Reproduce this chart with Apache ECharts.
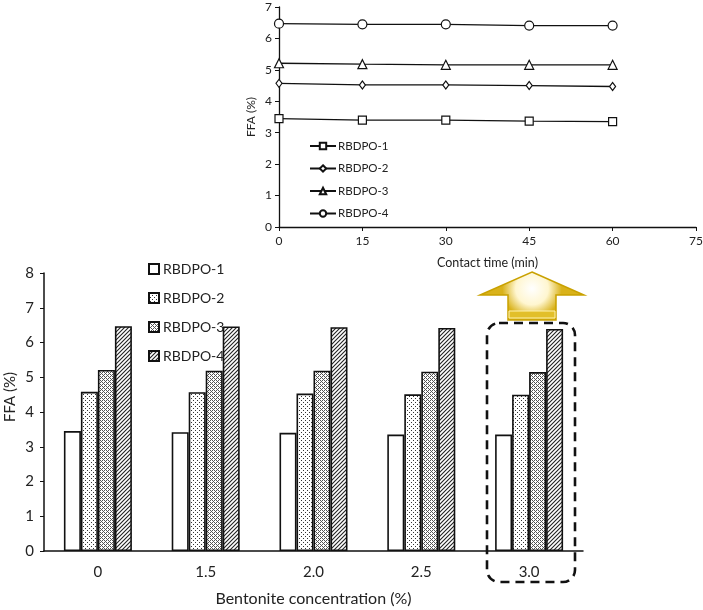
<!DOCTYPE html>
<html>
<head>
<meta charset="utf-8">
<script src="https://cdn.jsdelivr.net/npm/echarts@6/dist/echarts.min.js"></script>
<style>
html,body{margin:0;padding:0;background:#fff;}
#chart{width:703px;height:610px;}
</style>
</head>
<body>
<div id="chart"></div>
<script>
// ---- Data ----
const seriesNames = ['RBDPO-1', 'RBDPO-2', 'RBDPO-3', 'RBDPO-4'];
// Bottom chart: FFA vs bentonite concentration
const bentoniteCategories = ['0', '1.5', '2.0', '2.5', '3.0'];
const barRBDPO1 = [3.45, 3.42, 3.40, 3.35, 3.35];
const barRBDPO2 = [4.58, 4.57, 4.53, 4.51, 4.50];
const barRBDPO3 = [5.21, 5.19, 5.19, 5.16, 5.15];
const barRBDPO4 = [6.47, 6.46, 6.44, 6.42, 6.39];
// Top chart: FFA vs contact time (at 3.0 % bentonite)
const contactTimes = [0, 15, 30, 45, 60];
const lineRBDPO1 = [3.45, 3.40, 3.40, 3.37, 3.35];
const lineRBDPO2 = [4.57, 4.52, 4.52, 4.50, 4.47];
const lineRBDPO3 = [5.21, 5.18, 5.16, 5.16, 5.16];
const lineRBDPO4 = [6.47, 6.45, 6.45, 6.41, 6.41];
const barYTicks = [0, 1, 2, 3, 4, 5, 6, 7, 8];
const lineYTicks = [0, 1, 2, 3, 4, 5, 6, 7];
const lineXTicks = [0, 15, 30, 45, 60, 75];

// ---- Patterns ----
function makeTile(w, h, draw) {
  const c = document.createElement('canvas');
  c.width = w; c.height = h;
  const ctx = c.getContext('2d');
  ctx.fillStyle = '#fff';
  ctx.fillRect(0, 0, w, h);
  draw(ctx);
  return c;
}
const sparseDots = makeTile(4, 4, ctx => {
  ctx.fillStyle = '#333';
  ctx.fillRect(1, 0, 1, 1);
  ctx.fillRect(3, 2, 1, 1);
});
const denseDots = makeTile(4, 4, ctx => {
  ctx.fillStyle = '#555';
  ctx.fillRect(0, 0, 1, 1); ctx.fillRect(2, 0, 1, 1);
  ctx.fillRect(1, 1, 1, 1);
  ctx.fillRect(0, 2, 1, 1); ctx.fillRect(2, 2, 1, 1);
  ctx.fillRect(3, 3, 1, 1);
});
const hatch = makeTile(4, 4, ctx => {
  ctx.strokeStyle = '#222';
  ctx.lineWidth = 1.1;
  ctx.beginPath();
  ctx.moveTo(-1, 5); ctx.lineTo(5, -1);
  ctx.moveTo(-1, 1); ctx.lineTo(1, -1);
  ctx.moveTo(3, 5); ctx.lineTo(5, 3);
  ctx.stroke();
});
const fills = ['#ffffff', {image: sparseDots, repeat: 'repeat'}, {image: denseDots, repeat: 'repeat'}, {image: hatch, repeat: 'repeat'}];
const barData = [barRBDPO1, barRBDPO2, barRBDPO3, barRBDPO4];
const lineData = [lineRBDPO1, lineRBDPO2, lineRBDPO3, lineRBDPO4];
const symbols = ['rect', 'diamond', 'triangle', 'circle'];
const symbolSizes = [8, [6, 8], 9, 9];

const FONT = 'Lato';
const TXT = '#222';

const chart = echarts.init(document.getElementById('chart'), null, {renderer: 'canvas'});

const series = [];
barData.forEach((d, i) => {
  series.push({
    name: seriesNames[i], type: 'bar', xAxisIndex: 0, yAxisIndex: 0,
    data: d, barWidth: 17, barGap: '0%',
    itemStyle: {color: fills[i], borderColor: '#111', borderWidth: 1.6},
    emphasis: {disabled: true}
  });
});
lineData.forEach((d, i) => {
  series.push({
    name: seriesNames[i] + ' ', type: 'line', xAxisIndex: 1, yAxisIndex: 1,
    data: contactTimes.map((t, k) => [t, d[k]]),
    symbol: symbols[i], symbolSize: symbolSizes[i],
    lineStyle: {color: '#111', width: 1.3},
    itemStyle: {color: '#fff', borderColor: '#111', borderWidth: 1.2},
    emphasis: {disabled: true}
  });
});

const option = {
  animation: false,
  backgroundColor: '#fff',
  grid: [
    {left: 44, right: 120, top: 273, bottom: 59, containLabel: false, outerBoundsMode: 'none'},
    {left: 279, right: 7, top: 7, height: 220, containLabel: false, outerBoundsMode: 'none'}
  ],
  legend: [
    {
      data: seriesNames, orient: 'vertical', left: 143, top: 257,
      itemWidth: 10, itemHeight: 10, itemGap: 15, icon: 'rect',
      textStyle: {fontFamily: FONT, fontSize: 14, color: TXT, padding: [0, 0, 0, -1]},
      selectedMode: false
    },
    {
      data: seriesNames.map(n => n + ' '), orient: 'vertical', left: 304, top: 135,
      itemWidth: 26, itemHeight: 8, itemGap: 10.5,
      textStyle: {fontFamily: FONT, fontSize: 11.5, color: TXT, padding: [0, 0, 0, -3]},
      selectedMode: false
    }
  ],
  xAxis: [
    {
      type: 'category', gridIndex: 0, data: bentoniteCategories,
      axisLine: {lineStyle: {color: '#111', width: 1.5}},
      axisTick: {show: false},
      axisLabel: {fontFamily: FONT, fontSize: 15, color: TXT, margin: 14},
      name: 'Bentonite concentration (%)', nameLocation: 'middle', nameGap: 40,
      nameMoveOverlap: false,
      nameTextStyle: {fontFamily: FONT, fontSize: 16, color: TXT}
    },
    {
      type: 'value', gridIndex: 1, min: 0, max: 75, interval: 15,
      axisLine: {lineStyle: {color: '#111', width: 1.3}},
      axisTick: {show: true, length: 4, lineStyle: {color: '#111'}},
      splitLine: {show: false},
      axisLabel: {fontFamily: FONT, fontSize: 12, color: TXT, margin: 8,
        formatter: v => lineXTicks.includes(v) ? String(v) : ''},
      name: 'Contact time (min)', nameLocation: 'middle', nameGap: 29,
      nameMoveOverlap: false,
      nameTextStyle: {fontFamily: FONT, fontSize: 12.5, color: TXT}
    }
  ],
  yAxis: [
    {
      type: 'value', gridIndex: 0, min: 0, max: 8, interval: 1,
      axisLine: {show: true, lineStyle: {color: '#111', width: 1.5}},
      axisTick: {show: true, length: 4, lineStyle: {color: '#111'}},
      splitLine: {show: false},
      axisLabel: {fontFamily: FONT, fontSize: 15, color: TXT, margin: 10,
        formatter: v => barYTicks.includes(v) ? String(v) : ''},
      name: 'FFA (%)', nameLocation: 'middle', nameGap: 26,
      nameMoveOverlap: false,
      nameTextStyle: {fontFamily: FONT, fontSize: 15, color: TXT, padding: [0, 0, 0, 30]}
    },
    {
      type: 'value', gridIndex: 1, min: 0, max: 7, interval: 1,
      axisLine: {show: true, lineStyle: {color: '#111', width: 1.3}},
      axisTick: {show: true, length: 4, lineStyle: {color: '#111'}},
      splitLine: {show: false},
      axisLabel: {fontFamily: FONT, fontSize: 12, color: TXT, margin: 7,
        formatter: v => lineYTicks.includes(v) ? String(v) : ''},
      name: 'FFA (%)', nameLocation: 'middle', nameGap: 22,
      nameMoveOverlap: false,
      nameTextStyle: {fontFamily: FONT, fontSize: 12, color: TXT}
    }
  ],
  series: series,
  graphic: [
    {
      type: 'polygon', z: 10,
      shape: {points: [[532, 272], [584, 295], [556, 295], [556, 320], [508, 320], [508, 295], [480, 295]]},
      style: {
        fill: new echarts.graphic.RadialGradient(0.5, 0.35, 0.6, [
          {offset: 0, color: '#ffffff'}, {offset: 0.55, color: '#fff6d0'}, {offset: 1, color: '#d9b21a'}
        ]),
        stroke: '#c9a100', lineWidth: 1.5
      }
    },
    {
      type: 'rect', z: 11,
      shape: {x: 509, y: 311, width: 46, height: 7},
      style: {fill: '#e2bf2a', stroke: '#fff3b0', lineWidth: 1}
    },
    {
      type: 'rect', z: 10,
      shape: {x: 487, y: 323, width: 88, height: 259, r: 12},
      style: {fill: 'none', stroke: '#111', lineWidth: 2.6, lineDash: [9, 6]}
    }
  ]
};
chart.setOption(option);
</script>
</body>
</html>
